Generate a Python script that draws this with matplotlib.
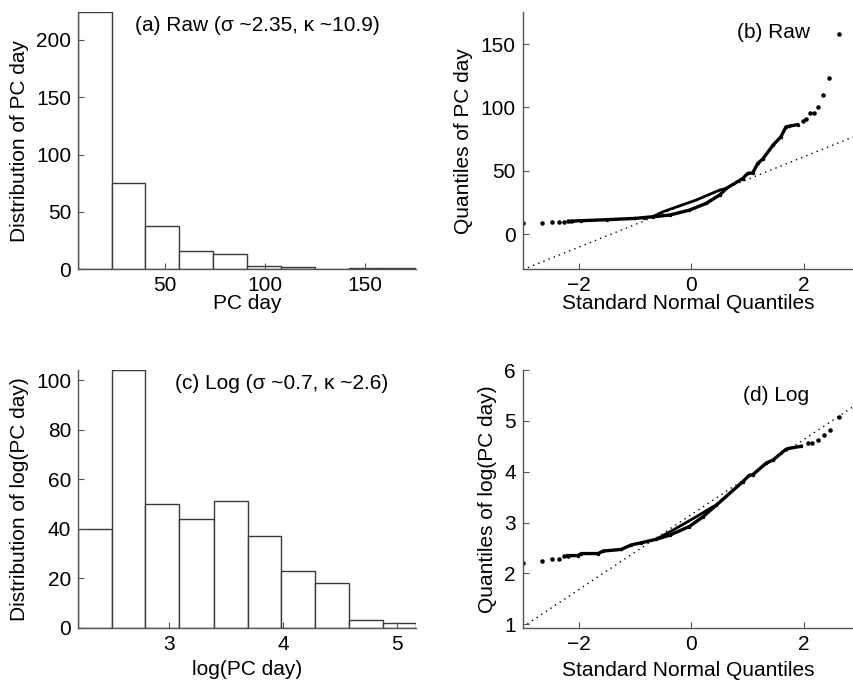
import matplotlib
matplotlib.use("Agg")
from matplotlib import pyplot as plt

plt.rcParams['font.family'] = ['Liberation Sans', 'DejaVu Sans']

# histogram (a): raw PC day
raw_edges = [6.5, 23.5, 40.2, 57.2, 74.2, 91.0, 108.0, 125.0, 142.0, 159.0, 175.5]
raw_counts = [224, 75, 38, 16, 13, 3, 2, 0, 1, 1]

# histogram (c): log(PC day)
log_edges = [2.2, 2.494, 2.79, 3.09, 3.39, 3.69, 3.985, 4.28, 4.58, 4.88, 5.17]
log_counts = [40, 104, 50, 44, 51, 37, 23, 18, 3, 2]

# qq plot (b): raw
raw_left_x = [-3.0, -2.66, -2.48, -2.36, -2.27, -2.2, -2.14]
raw_left_y = [8.7, 9.1, 9.6, 9.8, 10.1, 10.3, 10.4]
raw_main_x = [-2.1, -1.96, -1.5, -1.0, -0.84, -0.69, -0.39, -0.04, 0.26, 0.5, 0.62,
              0.91, 1.0, 1.09, 1.18, 1.27, 1.45, 1.59, 1.68, 1.74, 1.89]
raw_main_y = [10.5, 10.8, 11.6, 12.6, 13.3, 13.9, 15.2, 19.1, 24.4, 31.0, 36.2,
              44.0, 48.0, 48.5, 56.0, 59.5, 70.3, 76.9, 84.7, 85.3, 86.5]
raw_upper_x = [-0.69, -0.51, 0.08, 0.5, 0.62]
raw_upper_y = [13.9, 17.8, 27.0, 34.9, 36.2]
raw_right_x = [1.98, 2.04, 2.10, 2.17, 2.25, 2.33, 2.45, 2.63]
raw_right_y = [89.5, 91.0, 95.7, 95.7, 100.0, 109.7, 123.0, 157.7]
raw_ref_x = [-3.0, 3.0]
raw_ref_y = [-27.8, 79.0]

# qq plot (d): log
log_left_x = [-3.0, -2.66, -2.48, -2.36, -2.26, -2.2]
log_left_y = [2.20, 2.25, 2.28, 2.29, 2.34, 2.35]
log_main_x = [-2.2, -2.02, -1.96, -1.66, -1.57, -1.25, -1.07, -0.90, -0.63, -0.39,
              -0.04, 0.2, 0.44, 0.91, 1.03, 1.09, 1.33, 1.45, 1.68, 1.74, 1.95]
log_main_y = [2.35, 2.35, 2.39, 2.39, 2.44, 2.47, 2.56, 2.60, 2.67, 2.75,
              2.92, 3.11, 3.34, 3.80, 3.93, 3.94, 4.17, 4.23, 4.44, 4.46, 4.50]
log_upper_x = [-0.63, -0.33, 0.08, 0.38, 0.44]
log_upper_y = [2.67, 2.85, 3.11, 3.31, 3.34]
log_right_x = [2.07, 2.14, 2.25, 2.35, 2.47, 2.63]
log_right_y = [4.57, 4.57, 4.62, 4.72, 4.82, 5.07]
log_ref_x = [-3.0, 3.0]
log_ref_y = [0.945, 5.37]

W, H = 854, 683
FS = 15
EDGE = '#3a3a3a'


def make_axes(fig, left, right, top, bottom):
    return fig.add_axes([left / W, 1 - bottom / H, (right - left) / W, (bottom - top) / H])


def style(ax):
    for s in ('top', 'right'):
        ax.spines[s].set_visible(False)
    for s in ('left', 'bottom'):
        ax.spines[s].set_color('#555555')
        ax.spines[s].set_linewidth(1.0)
    ax.tick_params(direction='in', length=4, width=0.8, color='#555555',
                   labelsize=FS, pad=5)


def histogram(ax, edges, counts):
    widths = [edges[i + 1] - edges[i] for i in range(len(counts))]
    ax.bar(edges[:-1], counts, width=widths, align='edge', facecolor='white',
           edgecolor=EDGE, linewidth=1.0)


def qq(ax, lx, ly, mx, my, ux, uy, rx, ry, refx, refy):
    ax.plot(refx, refy, color='black', linestyle=(0, (1, 3)), linewidth=1.0)
    ax.plot(mx, my, color='black', linewidth=2.4, marker='.', markersize=3)
    ax.plot(ux, uy, color='black', linewidth=2.0)
    ax.plot(lx, ly, 'k.', markersize=4.5)
    ax.plot(rx, ry, 'k.', markersize=4.5)


fig = plt.figure(figsize=(W / 100, H / 100), dpi=100)

# (a)
ax1 = make_axes(fig, 78, 416, 12.3, 269.3)
histogram(ax1, raw_edges, raw_counts)
ax1.set_xlim(6.5, 175.5)
ax1.set_ylim(0, 224)
ax1.set_xticks([50, 100, 150])
ax1.set_yticks([0, 50, 100, 150, 200])
style(ax1)
ax1.text(0.169, 0.95, '(a) Raw (σ ~2.35, κ ~10.9)', transform=ax1.transAxes,
         fontsize=FS, va='center', ha='left')
ax1.set_xlabel('PC day', fontsize=FS)
ax1.set_ylabel('Distribution of PC day', fontsize=FS, va='center')
ax1.xaxis.set_label_coords(0.5, -0.096)
ax1.yaxis.set_label_coords(-0.172, 0.5)

# (b)
ax2 = make_axes(fig, 522.7, 854, 12.3, 269.3)
qq(ax2, raw_left_x, raw_left_y, raw_main_x, raw_main_y, raw_upper_x, raw_upper_y,
   raw_right_x, raw_right_y, raw_ref_x, raw_ref_y)
ax2.set_xlim(-3.0, 2.89)
ax2.set_ylim(-27.5, 175)
ax2.set_xticks([-2, 0, 2])
ax2.set_yticks([0, 50, 100, 150])
style(ax2)
ax2.text(0.646, 0.92, '(b) Raw', transform=ax2.transAxes, fontsize=FS,
         va='center', ha='left')
ax2.set_xlabel('Standard Normal Quantiles', fontsize=FS)
ax2.set_ylabel('Quantiles of PC day', fontsize=FS, va='center')
ax2.xaxis.set_label_coords(0.5, -0.096)
ax2.yaxis.set_label_coords(-0.18, 0.5)

# (c)
ax3 = make_axes(fig, 78.3, 416, 370.3, 627.7)
histogram(ax3, log_edges, log_counts)
ax3.set_xlim(2.2, 5.17)
ax3.set_ylim(0, 104)
ax3.set_xticks([3, 4, 5])
ax3.set_yticks([0, 20, 40, 60, 80, 100])
style(ax3)
ax3.text(0.286, 0.95, '(c) Log (σ ~0.7, κ ~2.6)', transform=ax3.transAxes,
         fontsize=FS, va='center', ha='left')
ax3.set_xlabel('log(PC day)', fontsize=FS)
ax3.set_ylabel('Distribution of log(PC day)', fontsize=FS, va='center')
ax3.xaxis.set_label_coords(0.5, -0.125)
ax3.yaxis.set_label_coords(-0.173, 0.5)

# (d)
ax4 = make_axes(fig, 522.7, 854, 370, 628.3)
qq(ax4, log_left_x, log_left_y, log_main_x, log_main_y, log_upper_x, log_upper_y,
   log_right_x, log_right_y, log_ref_x, log_ref_y)
ax4.set_xlim(-3.0, 2.89)
ax4.set_ylim(0.92, 6)
ax4.set_xticks([-2, 0, 2])
ax4.set_yticks([1, 2, 3, 4, 5, 6])
style(ax4)
ax4.text(0.666, 0.903, '(d) Log', transform=ax4.transAxes, fontsize=FS,
         va='center', ha='left')
ax4.set_xlabel('Standard Normal Quantiles', fontsize=FS)
ax4.set_ylabel('Quantiles of log(PC day)', fontsize=FS, va='center')
ax4.xaxis.set_label_coords(0.5, -0.125)
ax4.yaxis.set_label_coords(-0.105, 0.5)

fig.savefig('out.png', dpi=100)
